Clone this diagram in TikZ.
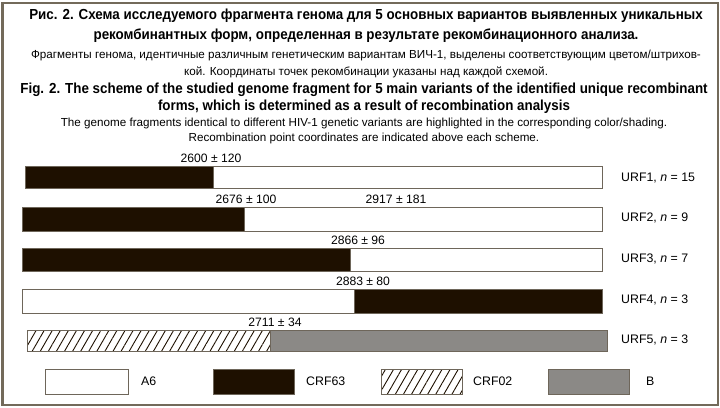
\documentclass[tikz,border=0pt]{standalone}
\usepackage{fontspec}
\setmainfont{Liberation Sans}[BoldFeatures={FakeStretch=0.92}]
\usetikzlibrary{patterns.meta}
\definecolor{framec}{HTML}{736A5A}
\definecolor{darkc}{HTML}{1E1000}
\definecolor{grayc}{HTML}{8B8986}
\definecolor{edgec}{HTML}{6E665A}
\tikzset{
  title/.style={font=\bfseries\fontsize{14.6}{16}\selectfont, inner sep=0pt, anchor=center},
  sub/.style={font=\fontsize{11.7}{13}\selectfont, inner sep=0pt, anchor=center},
  coord/.style={font=\fontsize{12.2}{14}\selectfont, inner sep=0pt, anchor=center},
  urf/.style={font=\fontsize{12.4}{14}\selectfont, inner sep=0pt, anchor=west},
  seg/.style={draw=edgec, line width=0.6bp},
  whitefill/.style={seg, fill=white},
  darkfill/.style={seg, fill=darkc},
  grayfill/.style={seg, fill=grayc},
  hatchfill/.style={seg, pattern={Lines[angle=60,distance=7bp,line width=0.9bp]}, pattern color=darkc},
}
\begin{document}
\begin{tikzpicture}[x=1bp,y=-1bp]
\useasboundingbox (0,0) rectangle (720,407);
\fill[white] (0,0) rectangle (720,407);
\draw[framec, line width=2bp] (2.5,2.5) rectangle (717.5,404.5);
% titles
\node[title] (t1) at (366,16) {Рис. 2. Схема исследуемого фрагмента генома для 5 основных вариантов выявленных уникальных};
\node[title] (t2) at (366,36) {рекомбинантных форм, определенная в результате рекомбинационного анализа.};
\node[sub] (t3) at (366,55) {Фрагменты генома, идентичные различным генетическим вариантам ВИЧ-1, выделены соответствующим цветом/штрихов-};
\node[sub] (t4) at (366,72) {кой. Координаты точек рекомбинации указаны над каждой схемой.};
\node[title] (e1) at (364,90) {Fig. 2. The scheme of the studied genome fragment for 5 main variants of the identified unique recombinant};
\node[title] (e2) at (364,107) {forms, which is determined as a result of recombination analysis};
\node[sub] (e3) at (364,123) {The genome fragments identical to different HIV-1 genetic variants are highlighted in the corresponding color/shading.};
\node[sub] (e4) at (364,138) {Recombination point coordinates are indicated above each scheme.};
% URF1
\draw[whitefill] (213,166) rectangle (602,188);
\draw[darkfill] (25,166) rectangle (213,188);
\node[coord] (c1) at (211,158) {2600 ± 120};
\node[urf] (u1) at (621,178) {URF1, \emph{n} = 15};
% URF2
\draw[whitefill] (244,207) rectangle (602,231);
\draw[darkfill] (22,207) rectangle (244,231);
\node[coord] (c2a) at (246,199) {2676 ± 100};
\node[coord] (c2b) at (396,199) {2917 ± 181};
\node[urf] (u2) at (621,218) {URF2, \emph{n} = 9};
% URF3
\draw[whitefill] (350,248) rectangle (602,271);
\draw[darkfill] (22,248) rectangle (350,271);
\node[coord] (c3) at (358,240) {2866 ± 96};
\node[urf] (u3) at (621,259) {URF3, \emph{n} = 7};
% URF4
\draw[whitefill] (22,289) rectangle (354,313);
\draw[darkfill] (354,289) rectangle (602,313);
\node[coord] (c4) at (363,281) {2883 ± 80};
\node[urf] (u4) at (621,300) {URF4, \emph{n} = 3};
% URF5
\draw[grayfill] (270,330) rectangle (607,351);
\draw[seg, fill=white] (27,330) rectangle (270,351);
\draw[hatchfill] (27,330) rectangle (270,351);
\node[coord] (c5) at (275,322) {2711 ± 34};
\node[urf] (u5) at (621,340) {URF5, \emph{n} = 3};
% legend
\draw[whitefill] (45,369) rectangle (128,394);
\node[urf] (l1) at (141,381) {A6};
\draw[darkfill] (213,369) rectangle (294,394);
\node[urf] (l2) at (306,381) {CRF63};
\draw[seg, fill=white] (381,369) rectangle (462,394);
\draw[hatchfill] (381,369) rectangle (462,394);
\node[urf] (l3) at (473,381) {CRF02};
\draw[grayfill] (548,369) rectangle (629,394);
\node[urf] (l4) at (646,381) {B};
\end{tikzpicture}
\end{document}
